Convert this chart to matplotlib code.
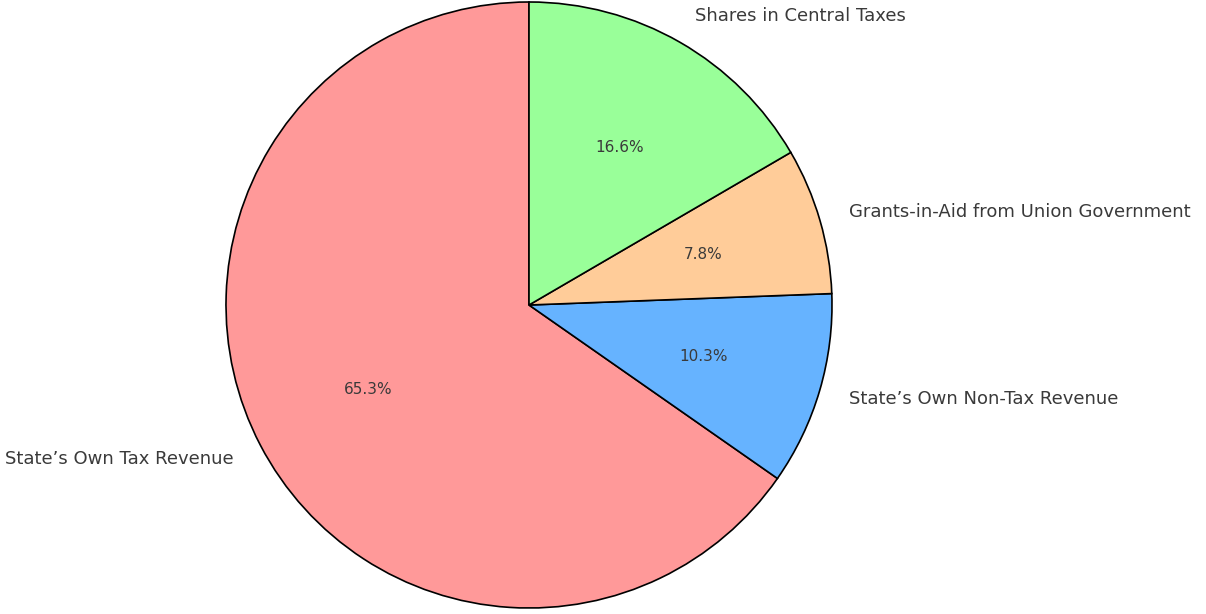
import matplotlib
matplotlib.use("Agg")
import matplotlib.pyplot as plt

labels = ["State\u2019s Own Tax Revenue", "State\u2019s Own Non-Tax Revenue",
          "Grants-in-Aid from Union Government", "Shares in Central Taxes"]
values = [65.3, 10.3, 7.8, 16.6]
colors = ["#ff9999", "#66b3ff", "#ffcc99", "#99ff99"]

fig = plt.figure(figsize=(12.06, 6.14), dpi=100)
ax = fig.add_axes([0, 0, 1, 1])
wedges, texts, autotexts = ax.pie(values, labels=labels, colors=colors, autopct="%1.1f%%",
                                  startangle=90, wedgeprops=dict(edgecolor="black", linewidth=1.2),
                                  textprops=dict(color="#3a3a3a"))
for t in texts:
    t.set_fontsize(13)
for t in autotexts:
    t.set_fontsize(11)
cx, cy, r = 529, 305, 303
ax.set_xlim(-cx / r, (1206 - cx) / r)
ax.set_ylim((cy - 614) / r, cy / r)
ax.set_aspect("auto")
ax.axis("off")
fig.savefig("out.png", dpi=100)
